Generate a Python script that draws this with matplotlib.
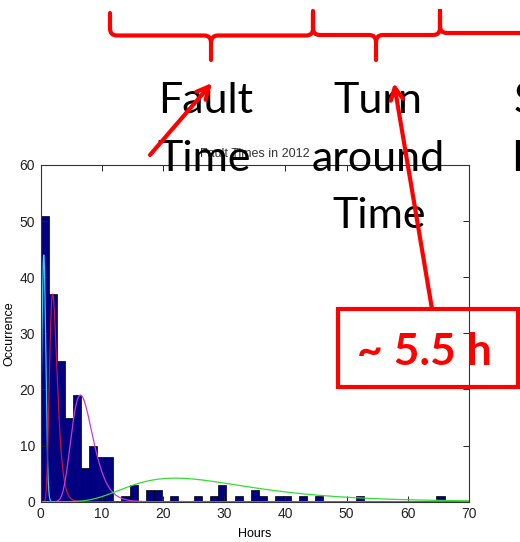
import numpy as np
import matplotlib
matplotlib.use("Agg")
import matplotlib.pyplot as plt
from matplotlib.patches import Rectangle, PathPatch
from matplotlib.path import Path

# fault durations, MATLAB hist with 50 bins
bin_edges = np.linspace(0, 66, 51)
counts = [51, 37, 25, 15, 19, 6, 10, 8, 8, 0,
          1, 3, 0, 2, 2, 0, 1, 0, 0, 1,
          0, 1, 3, 0, 1, 0, 2, 1, 0, 1,
          1, 0, 1, 0, 1, 0, 0, 0, 0, 1,
          0, 0, 0, 0, 0, 0, 0, 0, 0, 1]

# fitted components: peak height, peak position (h), width, log-normal or not
fit_peak = [44, 37, 19, 4.2]
fit_mode = [0.5, 1.95, 6.5, 22]
fit_width = [0.33, 0.32, 0.27, 0.45]
fit_log = [False, True, True, True]
fit_colors = ["#33ccff", "#d0103a", "#c83cd2", "#33dd33"]

x_ticks = [0, 10, 20, 30, 40, 50, 60, 70]
y_ticks = [0, 10, 20, 30, 40, 50, 60]

W, H = 520, 542
fig = plt.figure(figsize=(W / 100, H / 100), dpi=100)
fig.patch.set_facecolor("white")

ax = fig.add_axes([40.7 / W, 1 - 501.7 / H, 428.3 / W, 336.7 / H])
ax.bar(bin_edges[:-1], counts, width=np.diff(bin_edges), align="edge",
       color="#000080", edgecolor="black", linewidth=0.5, zorder=1)

hours = np.linspace(0.001, 70, 1500)
for pk, md, wd, lg, col in zip(fit_peak, fit_mode, fit_width, fit_log, fit_colors):
    if lg:
        y = pk * np.exp(-np.log(hours / md) ** 2 / (2 * wd ** 2))
    else:
        y = pk * np.exp(-(hours - md) ** 2 / (2 * wd ** 2))
    ax.plot(hours, y, color=col, lw=0.9, zorder=2)

mfont = ["Liberation Sans", "DejaVu Sans"]
ax.set_xlim(0, 70)
ax.set_ylim(0, 60)
ax.set_xticks(x_ticks)
ax.set_yticks(y_ticks)
ax.tick_params(direction="in", top=True, right=True, length=4, width=0.7,
               labelsize=10, colors="#222222", pad=4)
for lab in ax.get_xticklabels() + ax.get_yticklabels():
    lab.set_family(mfont)
for s in ax.spines.values():
    s.set_color("#333333")
    s.set_linewidth(0.8)
ax.set_title("Fault Times in 2012", fontsize=9, family=mfont, color="#333333", pad=6)
ax.set_xlabel("Hours", fontsize=9, family=mfont, labelpad=5)
ax.set_ylabel("Occurrence", fontsize=9, family=mfont, labelpad=3)

# slide overlay in pixel coordinates
ov = fig.add_axes([0, 0, 1, 1], zorder=5)
ov.set_xlim(0, W)
ov.set_ylim(H, 0)
ov.axis("off")
ov.patch.set_alpha(0)

red = "#ff0000"
blw = 3.0


def brace(x0, x1, xm, ytop, ymid, ytip, r=7):
    M, L, C = Path.MOVETO, Path.LINETO, Path.CURVE3
    verts = [(x0, ytop), (x0, ymid - r), (x0, ymid), (x0 + r, ymid),
             (xm - r, ymid), (xm, ymid), (xm, ymid + r), (xm, ytip),
             (xm, ymid + r), (xm, ymid), (xm + r, ymid),
             (x1 - r, ymid), (x1, ymid), (x1, ymid - r), (x1, ytop)]
    codes = [M, L, C, C, L, C, C, L, M, C, C, L, C, C, L]
    ov.add_patch(PathPatch(Path(verts, codes), fill=False, edgecolor=red,
                           lw=blw, capstyle="round", joinstyle="round"))


brace(110, 313, 211, 13, 35.5, 60)
brace(313, 440, 376, 11, 35, 60)
M, L, C = Path.MOVETO, Path.LINETO, Path.CURVE3
ov.add_patch(PathPatch(Path([(440, 9), (440, 26), (440, 33), (447, 33), (530, 33)],
                            [M, L, C, C, L]),
                       fill=False, edgecolor=red, lw=blw))

sfont = ["Lato", "DejaVu Sans"]
tsize = 31
for txt, x, y in [("Fault", 206, 113), ("Time", 204, 171),
                  ("Turn", 378, 113), ("around", 378, 171), ("Time", 379, 228)]:
    ov.text(x, y, txt, ha="center", va="baseline", fontsize=tsize, family=sfont)
ov.text(514, 113, "S", ha="left", va="baseline", fontsize=tsize, family=sfont)
ov.text(511, 171, "E", ha="left", va="baseline", fontsize=tsize, family=sfont)

arrow = dict(arrowstyle="->", color=red, lw=blw, mutation_scale=22,
             shrinkA=0, shrinkB=0)
ov.annotate("", xy=(212, 83), xytext=(150, 155), arrowprops=arrow)
ov.annotate("", xy=(394, 83), xytext=(432, 309), arrowprops=arrow)

ov.add_patch(Rectangle((338, 309), 180, 78, fill=False, edgecolor=red, lw=blw))
ov.text(424, 365, "~ 5.5 h", ha="center", va="baseline", fontsize=32,
        fontweight="bold", color=red, family=sfont)

fig.savefig("out.png", dpi=100)
